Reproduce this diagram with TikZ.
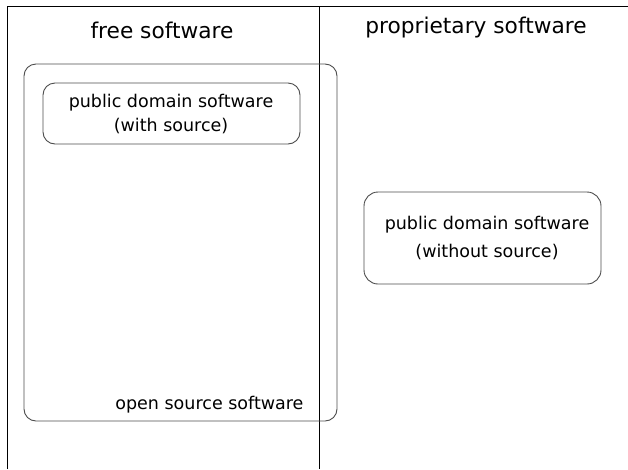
\documentclass[tikz,border=0pt]{standalone}
\usepackage{fontspec}
\setmainfont{DejaVu Sans}
\begin{document}
\begin{tikzpicture}[x=1pt,y=-1pt,
  frame/.style={draw=black,line width=1pt},
  rbox/.style={draw=black!70,line width=0.9pt,rounded corners=12pt},
  title/.style={font=\fontsize{21.7}{26}\selectfont,anchor=center},
  label/.style={font=\fontsize{17.5}{23.5}\selectfont,align=center,anchor=center}]
\useasboundingbox (0,0) rectangle (628,469);
\coordinate (tl) at (7,6);
\coordinate (tr) at (628,6);
\coordinate (bl) at (7,469);
\coordinate (mt) at (319,6);
\coordinate (mb) at (319,469);
\draw[frame] (bl) -- (tl) -- (tr);
\draw[frame] (mt) -- (mb);
\node[title] (free) at (162,30) {free software};
\node[title] (prop) at (476,28) {proprietary software};
\draw[rbox] (24,64) rectangle (337,421);
\node[label,anchor=east] (oss) at (307,405) {open source software};
\draw[rbox] (43,83) rectangle (300,144);
\node[label] (pdws) at (171,114) {public domain software\\(with source)};
\draw[rbox,rounded corners=14pt] (364,192) rectangle (601,284);
\node[label,font=\fontsize{17.5}{28}\selectfont] (pdwos) at (487,238) {public domain software\\(without source)};
\end{tikzpicture}
\end{document}
